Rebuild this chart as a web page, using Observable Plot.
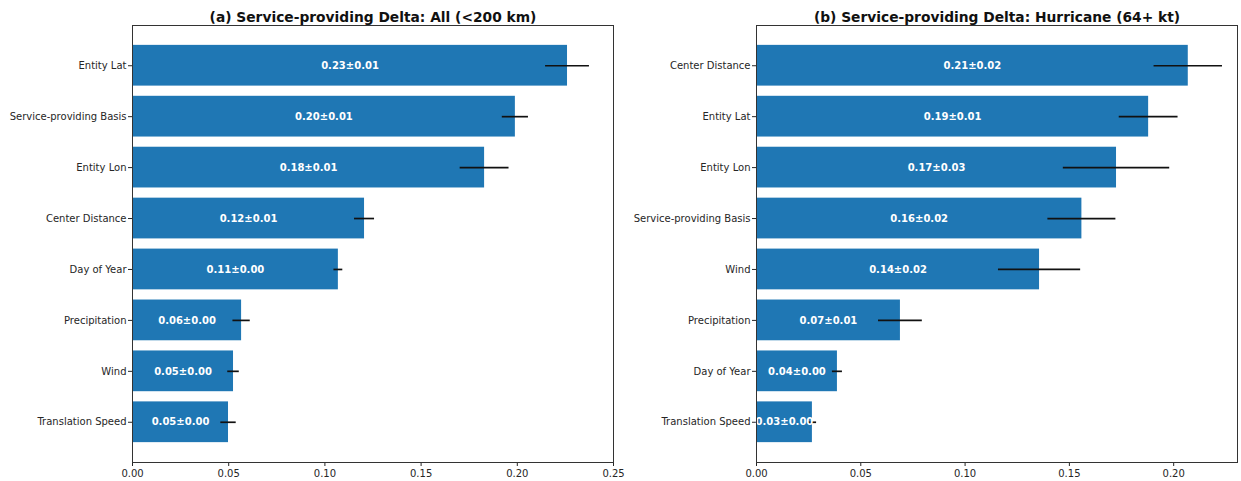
<!DOCTYPE html>
<html>
<head>
<meta charset="utf-8">
<script src="https://cdn.jsdelivr.net/npm/d3@7"></script>
<script src="https://cdn.jsdelivr.net/npm/@observablehq/plot@0.6"></script>
<style>
  html, body { margin: 0; padding: 0; background: white; }
  #wrap { position: relative; width: 1241px; height: 481px; background: white; overflow: hidden; }
  #left, #right { position: absolute; top: 0; }
  #left { left: 0; z-index: 2; }
  #right { left: 620px; z-index: 1; }
</style>
</head>
<body>
<div id="wrap"><div id="left"></div><div id="right"></div></div>
<script>
// Panel (a): Service-providing Delta: All (<200 km)
const titleA = "(a) Service-providing Delta: All (<200 km)";
const namesA = ["Entity Lat", "Service-providing Basis", "Entity Lon", "Center Distance", "Day of Year", "Precipitation", "Wind", "Translation Speed"];
const valuesA = [0.2261, 0.199, 0.183, 0.1206, 0.107, 0.0567, 0.0525, 0.0499];
const errorsA = [0.0114, 0.0068, 0.0127, 0.0052, 0.0023, 0.0045, 0.003, 0.004];
const xTicksA = [0, 0.05, 0.10, 0.15, 0.20, 0.25];

// Panel (b): Service-providing Delta: Hurricane (64+ kt)
const titleB = "(b) Service-providing Delta: Hurricane (64+ kt)";
const namesB = ["Center Distance", "Entity Lat", "Entity Lon", "Service-providing Basis", "Wind", "Precipitation", "Day of Year", "Translation Speed"];
const valuesB = [0.207, 0.188, 0.1726, 0.156, 0.1357, 0.069, 0.0388, 0.0268];
const errorsB = [0.0164, 0.0141, 0.0255, 0.0163, 0.0197, 0.0105, 0.0024, 0.002];
const xTicksB = [0, 0.05, 0.10, 0.15, 0.20];

function panel({names, values, errors, title, domain, ticks, width, marginLeft, marginRight}) {
  const data = names.map((n, i) => ({name: n, value: values[i], err: errors[i]}));
  return Plot.plot({
    width, height: 481,
    marginLeft, marginRight, marginTop: 25, marginBottom: 19,
    style: {fontFamily: "DejaVu Sans", fontSize: "10px", color: "#262626", background: "transparent", overflow: "visible"},
    x: {domain, ticks, tickFormat: d3.format(".2f"), label: null, tickSize: 4, tickPadding: 3},
    y: {domain: names, paddingInner: 0.2, paddingOuter: 0.39, round: false, label: null, tickSize: 4, tickPadding: 2},
    marks: [
      Plot.barX(data, {x: "value", y: "name", fill: "#1f77b4"}),
      Plot.ruleY(data, {y: "name", x1: d => d.value - d.err, x2: d => d.value + d.err, stroke: "#111", strokeWidth: 1.7}),
      Plot.text(data, {x: d => d.value / 2, y: "name", text: d => d.value.toFixed(2) + "±" + d.err.toFixed(2), fill: "white", fontWeight: "bold", fontSize: 10}),
      Plot.frame({stroke: "#333"}),
      Plot.text([title], {frameAnchor: "top", lineAnchor: "middle", dy: -8, fontWeight: "bold", fontSize: 13.8, fill: "#111"})
    ]
  });
}

document.getElementById("left").append(panel({
  names: namesA, values: valuesA, errors: errorsA, title: titleA,
  domain: [0, 0.25], ticks: xTicksA, width: 632, marginLeft: 132, marginRight: 19
}));
document.getElementById("right").append(panel({
  names: namesB, values: valuesB, errors: errorsB, title: titleB,
  domain: [0, 0.2306], ticks: xTicksB, width: 621, marginLeft: 136, marginRight: 4
}));
</script>
</body>
</html>
